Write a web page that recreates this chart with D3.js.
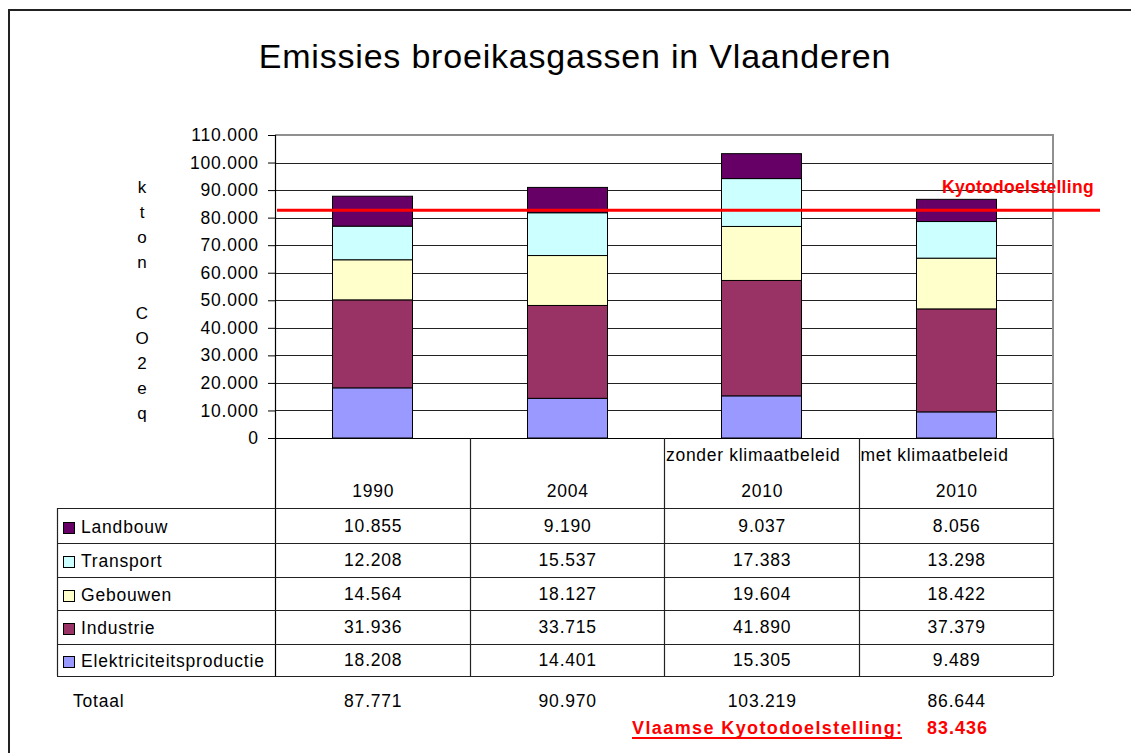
<!DOCTYPE html>
<html>
<head>
<meta charset="utf-8">
<script src="https://cdn.jsdelivr.net/npm/d3@7"></script>
<style>
  html, body { margin: 0; padding: 0; background: #fff; }
  svg { display: block; font-family: "Liberation Sans", Arial, sans-serif; }
</style>
</head>
<body>
<svg id="chart" width="1131" height="753"></svg>
<script>
// ---------------- data ----------------
const title = "Emissies broeikasgassen in Vlaanderen";
const categories = ["1990", "2004", "2010 zonder", "2010 met"];
const headerTop = ["", "", "zonder klimaatbeleid", "met klimaatbeleid"];
const headerYear = ["1990", "2004", "2010", "2010"];
const seriesNames = ["Elektriciteitsproductie", "Industrie", "Gebouwen", "Transport", "Landbouw"];
const seriesColors = ["#9999FF", "#993366", "#FFFFCC", "#CCFFFF", "#660066"];
const elektriciteit = [18208, 14401, 15305, 9489];
const industrie = [31936, 33715, 41890, 37379];
const gebouwen = [14564, 18127, 19604, 18422];
const transport = [12208, 15537, 17383, 13298];
const landbouw = [10855, 9190, 9037, 8056];
const totals = [87771, 90970, 103219, 86644];
const kyotoTarget = 83436;
const yTicks = [0, 10000, 20000, 30000, 40000, 50000, 60000, 70000, 80000, 90000, 100000, 110000];
const yLabelChars = ["k", "t", "o", "n", "", "C", "O", "2", "e", "q"];

// ---------------- setup ----------------
const svg = d3.select("#chart");
const nl = d3.formatLocale({ decimal: ",", thousands: ".", grouping: [3], currency: ["€", ""] });
const fmt = nl.format(",d");

const FS = 17.5;      // body font size
const LS = "0.8px";   // body letter spacing

const plot = { left: 275, right: 1053, top: 135, bottom: 438 };
const tableLeft = 57;
const rowEdges = [508, 543, 577, 610, 644, 676];

const y = d3.scaleLinear().domain([0, 110000]).range([plot.bottom, plot.top]);
const xCol = d3.scaleBand().domain(categories).range([plot.left, plot.right]).padding(0);
const xBar = d3.scaleBand().domain(categories).range([plot.left, plot.right])
  .paddingInner(0.59).paddingOuter(0.295);

const seriesArrays = [elektriciteit, industrie, gebouwen, transport, landbouw];
const rows = categories.map((c, i) => {
  const o = { cat: c };
  seriesNames.forEach((s, k) => o[s] = seriesArrays[k][i]);
  return o;
});
const stacked = d3.stack().keys(seriesNames)(rows);
const color = d3.scaleOrdinal().domain(seriesNames).range(seriesColors);

// outer frame
svg.append("path").attr("d", "M9,753 L9,10 L1131,10")
  .attr("fill", "none").attr("stroke", "#222").attr("stroke-width", 2);

// title
svg.append("text").attr("x", 575).attr("y", 68).attr("text-anchor", "middle")
  .attr("font-size", 34).attr("letter-spacing", "0.8px").attr("fill", "#000").text(title);

// gridlines
svg.append("g").selectAll("line").data(yTicks.filter(d => d > 0 && d < 110000)).join("line")
  .attr("x1", plot.left).attr("x2", plot.right)
  .attr("y1", d => Math.round(y(d)) + 0.5).attr("y2", d => Math.round(y(d)) + 0.5)
  .attr("stroke", "#222").attr("stroke-width", 1);

// plot border top/right (gray)
svg.append("path")
  .attr("d", `M${plot.left},${Math.round(plot.top)} L${plot.right},${Math.round(plot.top)} L${plot.right},${plot.bottom}`)
  .attr("fill", "none").attr("stroke", "#909090").attr("stroke-width", 2);

// y axis
const yAxis = d3.axisLeft(y).tickValues(yTicks).tickFormat(d => d === 0 ? "0" : fmt(d))
  .tickSize(7).tickPadding(10);
const ga = svg.append("g").attr("transform", `translate(${plot.left},0)`).call(yAxis);
ga.select(".domain").remove();
ga.selectAll(".tick line").attr("stroke", "#000");
ga.selectAll(".tick text").attr("font-size", FS).attr("letter-spacing", LS)
  .attr("font-family", "Liberation Sans, Arial, sans-serif").attr("fill", "#000").attr("dx", LS);

// y axis label (vertical letters)
svg.append("g").selectAll("text").data(yLabelChars).join("text")
  .attr("x", 142).attr("y", (d, i) => 193 + i * 25.1)
  .attr("text-anchor", "middle").attr("font-size", 17).attr("fill", "#000").text(d => d);

// bars
svg.append("g").selectAll("g").data(stacked).join("g")
  .attr("fill", d => color(d.key))
  .selectAll("rect").data(d => d).join("rect")
  .attr("x", d => Math.round(xBar(d.data.cat)) + 0.5)
  .attr("width", Math.round(xBar.bandwidth()))
  .attr("y", d => y(d[1]))
  .attr("height", d => y(d[0]) - y(d[1]))
  .attr("stroke", "#000").attr("stroke-width", 1);

// axis lines (left + bottom), continuing into the table
svg.append("line").attr("x1", plot.left + 0.5).attr("x2", plot.left + 0.5)
  .attr("y1", plot.top).attr("y2", rowEdges[rowEdges.length - 1])
  .attr("stroke", "#000").attr("stroke-width", 1.2);
svg.append("line").attr("x1", plot.left - 7).attr("x2", plot.right)
  .attr("y1", plot.bottom + 0.5).attr("y2", plot.bottom + 0.5)
  .attr("stroke", "#000").attr("stroke-width", 1.2);

// Kyoto line
svg.append("line").attr("x1", 277).attr("x2", 1100)
  .attr("y1", y(kyotoTarget) + 2).attr("y2", y(kyotoTarget) + 2)
  .attr("stroke", "#FF0000").attr("stroke-width", 3);
svg.append("text").attr("x", 942).attr("y", 193).attr("font-size", 17.5).attr("font-weight", "bold")
  .attr("letter-spacing", "0.3px").attr("fill", "#FF0000").text("Kyotodoelstelling");

// ---------------- data table ----------------
const tg = svg.append("g");
categories.forEach(c => {
  const x1 = xCol(c) + xCol.bandwidth();
  tg.append("line").attr("x1", Math.round(x1) + 0.5).attr("x2", Math.round(x1) + 0.5)
    .attr("y1", plot.bottom).attr("y2", rowEdges[rowEdges.length - 1])
    .attr("stroke", "#222").attr("stroke-width", 1.2);
});
tg.append("line").attr("x1", tableLeft + 0.5).attr("x2", tableLeft + 0.5)
  .attr("y1", rowEdges[0]).attr("y2", rowEdges[rowEdges.length - 1])
  .attr("stroke", "#222").attr("stroke-width", 1.2);
rowEdges.forEach(r => {
  tg.append("line").attr("x1", tableLeft).attr("x2", plot.right)
    .attr("y1", r + 0.5).attr("y2", r + 0.5).attr("stroke", "#222").attr("stroke-width", 1.2);
});
// header
categories.forEach((c, i) => {
  if (headerTop[i]) {
    tg.append("text").attr("x", xCol(c) + 2).attr("y", 461).attr("font-size", FS)
      .attr("letter-spacing", "0.7px").attr("fill", "#000").text(headerTop[i]);
  }
  tg.append("text").attr("x", xCol(c) + xCol.bandwidth() / 2 + 1).attr("y", 497)
    .attr("text-anchor", "middle").attr("font-size", FS).attr("letter-spacing", LS)
    .attr("fill", "#000").text(headerYear[i]);
});
// rows (top: Landbouw ... bottom: Elektriciteitsproductie)
const tableOrder = seriesNames.slice().reverse();
tableOrder.forEach((s, r) => {
  const top = rowEdges[r], bot = rowEdges[r + 1];
  const mid = (top + bot) / 2;
  tg.append("rect").attr("x", 63.5).attr("y", Math.round(mid - 4) + 0.5).attr("width", 11).attr("height", 11)
    .attr("fill", color(s)).attr("stroke", "#000").attr("stroke-width", 1);
  tg.append("text").attr("x", 81).attr("y", mid + 7).attr("font-size", FS)
    .attr("letter-spacing", "0.8px").attr("fill", "#000").text(s);
  const arr = seriesArrays[seriesNames.indexOf(s)];
  categories.forEach((c, i) => {
    tg.append("text").attr("x", xCol(c) + xCol.bandwidth() / 2 + 1).attr("y", mid + 6)
      .attr("text-anchor", "middle").attr("font-size", FS).attr("letter-spacing", LS)
      .attr("fill", "#000").text(fmt(arr[i]));
  });
});
// totals
tg.append("text").attr("x", 73).attr("y", 707).attr("font-size", FS).attr("letter-spacing", LS)
  .attr("fill", "#000").text("Totaal");
categories.forEach((c, i) => {
  tg.append("text").attr("x", xCol(c) + xCol.bandwidth() / 2 + 1).attr("y", 707)
    .attr("text-anchor", "middle").attr("font-size", FS).attr("letter-spacing", LS)
    .attr("fill", "#000").text(fmt(totals[i]));
});
// Vlaamse Kyotodoelstelling
tg.append("text").attr("x", 632).attr("y", 734).attr("font-size", 18).attr("font-weight", "bold")
  .attr("letter-spacing", "1.4px").attr("fill", "#FF0000").text("Vlaamse Kyotodoelstelling:");
tg.append("line").attr("x1", 632).attr("x2", 902).attr("y1", 738).attr("y2", 738)
  .attr("stroke", "#FF0000").attr("stroke-width", 2);
tg.append("text").attr("x", 927).attr("y", 734).attr("font-size", 18).attr("font-weight", "bold")
  .attr("letter-spacing", "1px").attr("fill", "#FF0000").text(fmt(kyotoTarget));
</script>
</body>
</html>
